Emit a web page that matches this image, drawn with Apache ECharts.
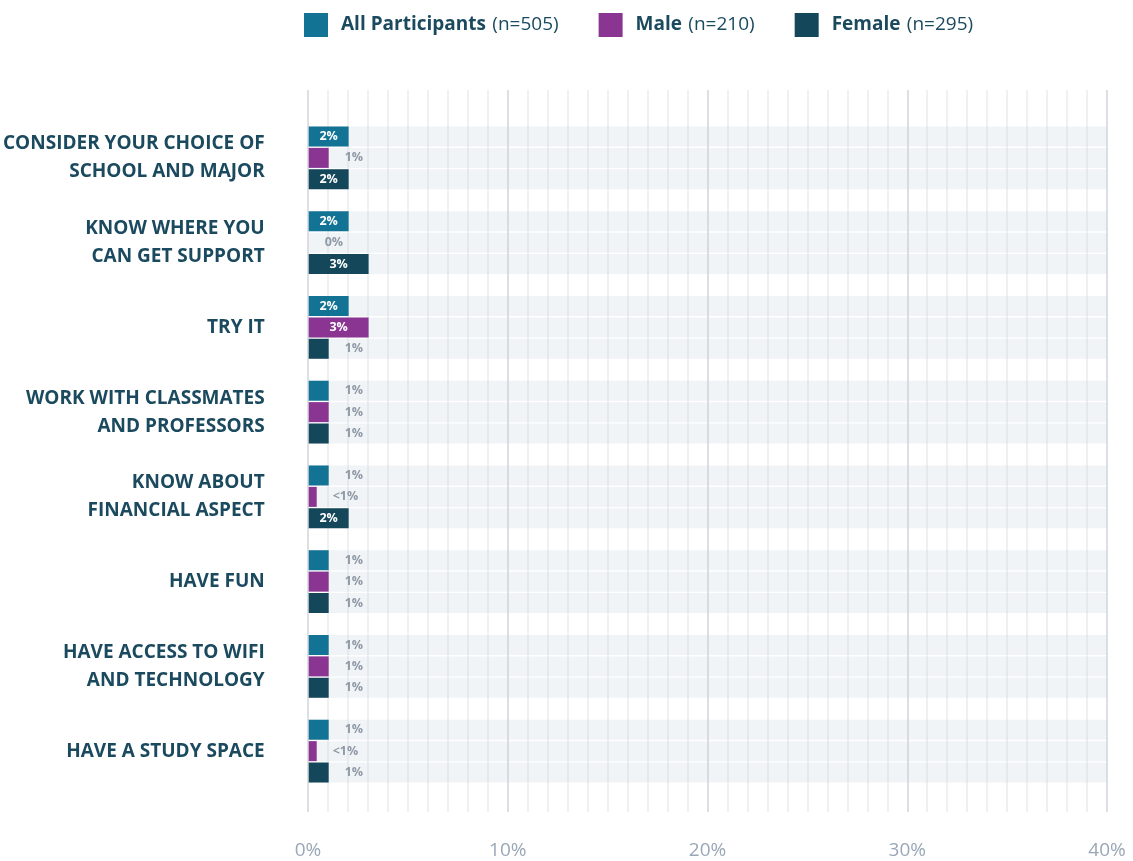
<!DOCTYPE html>
<html>
<head>
    <meta charset="utf-8">
    <script src="https://cdn.jsdelivr.net/npm/echarts@6/dist/echarts.min.js"></script>
    <style>
        body { margin: 0; background: #fff; }
        #chart { width: 1133px; height: 861px; }
    </style>
</head>
<body>
<div id="chart"></div>
<script type="text/javascript">
    var categories = [
        'CONSIDER YOUR CHOICE OF\nSCHOOL AND MAJOR',
        'KNOW WHERE YOU\nCAN GET SUPPORT',
        'TRY IT',
        'WORK WITH CLASSMATES\nAND PROFESSORS',
        'KNOW ABOUT\nFINANCIAL ASPECT',
        'HAVE FUN',
        'HAVE ACCESS TO WIFI\nAND TECHNOLOGY',
        'HAVE A STUDY SPACE'
    ];
    var seriesNames = ['All Participants', 'Male', 'Female'];
    var seriesCounts = ['(n=505)', '(n=210)', '(n=295)'];
    var allValues = [2, 2, 2, 1, 1, 1, 1, 1];
    var maleValues = [1, 0, 3, 1, 0.4, 1, 1, 0.4];
    var femaleValues = [2, 3, 1, 1, 2, 1, 1, 1];
    var colors = ['#137394', '#8a3592', '#15475b'];

    var fontFamily = '"Open Sans", sans-serif';

    var labelText = function (v) {
        if (v > 0 && v < 1) return '<1%';
        return Math.round(v) + '%';
    };

    var makeData = function (values) {
        return values.map(function (v) {
            var inside = v >= 2;
            return {
                value: v,
                label: {
                    show: true,
                    position: inside ? 'inside' : 'right',
                    distance: 16,
                    formatter: labelText(v),
                    color: inside ? '#ffffff' : '#8f9aa6',
                    fontSize: 12.5,
                    fontWeight: 'bold',
                    fontFamily: fontFamily
                }
            };
        });
    };

    var valueSets = [allValues, maleValues, femaleValues];
    var series = [];
    for (var i = 0; i < seriesNames.length; i++) {
        series.push({
            name: seriesNames[i],
            type: 'bar',
            xAxisIndex: 0,
            yAxisIndex: 0,
            barWidth: 20,
            barGap: '7%',
            itemStyle: { color: colors[i] },
            showBackground: true,
            backgroundStyle: { color: 'rgba(200,212,222,0.25)' },
            data: makeData(valueSets[i])
        });
    }

    var chart = echarts.init(document.getElementById('chart'));
    chart.setOption({
        animation: false,
        legend: {
            left: 304,
            top: 13,
            padding: 0,
            itemWidth: 24,
            itemHeight: 24,
            itemGap: 40,
            icon: 'rect',
            data: seriesNames,
            formatter: function (name) {
                return '{b|' + name + '} {n|' + seriesCounts[seriesNames.indexOf(name)] + '}';
            },
            textStyle: {
                padding: [0, 0, 0, 8],
                rich: {
                    b: { fontSize: 19, fontWeight: 'bold', color: '#1b4a5f', fontFamily: fontFamily },
                    n: { fontSize: 19, color: '#1b4a5f', fontFamily: fontFamily, padding: [0, 0, 0, 3] }
                }
            }
        },
        grid: [
            { left: 308, right: 26, top: 115.5, height: 678 },
            { left: 308, right: 26, top: 90, bottom: 49 }
        ],
        xAxis: [
            {
                gridIndex: 0, type: 'value', min: 0, max: 40,
                axisLine: { show: false }, axisTick: { show: false },
                axisLabel: { show: false }, splitLine: { show: false }
            },
            {
                gridIndex: 1, type: 'value', min: 0, max: 40, interval: 10,
                axisLine: { show: false }, axisTick: { show: false },
                axisLabel: {
                    formatter: '{value}%', margin: 29,
                    color: '#9aa7b6', fontSize: 19, fontFamily: fontFamily
                },
                splitLine: { show: true, lineStyle: { color: '#dcdfe3', width: 2 } },
                minorTick: { show: false, splitNumber: 10 },
                minorSplitLine: { show: true, lineStyle: { color: '#eef0f2', width: 2 } }
            }
        ],
        yAxis: [
            {
                gridIndex: 0, type: 'category', inverse: true, data: categories,
                axisLine: { show: false }, axisTick: { show: false },
                axisLabel: {
                    margin: 44, align: 'right',
                    color: '#1b4a5f', fontSize: 19, fontWeight: 'bold',
                    lineHeight: 28, fontFamily: fontFamily
                }
            },
            {
                gridIndex: 1, type: 'value', show: false
            }
        ],
        series: series
    });
</script>
</body>
</html>
